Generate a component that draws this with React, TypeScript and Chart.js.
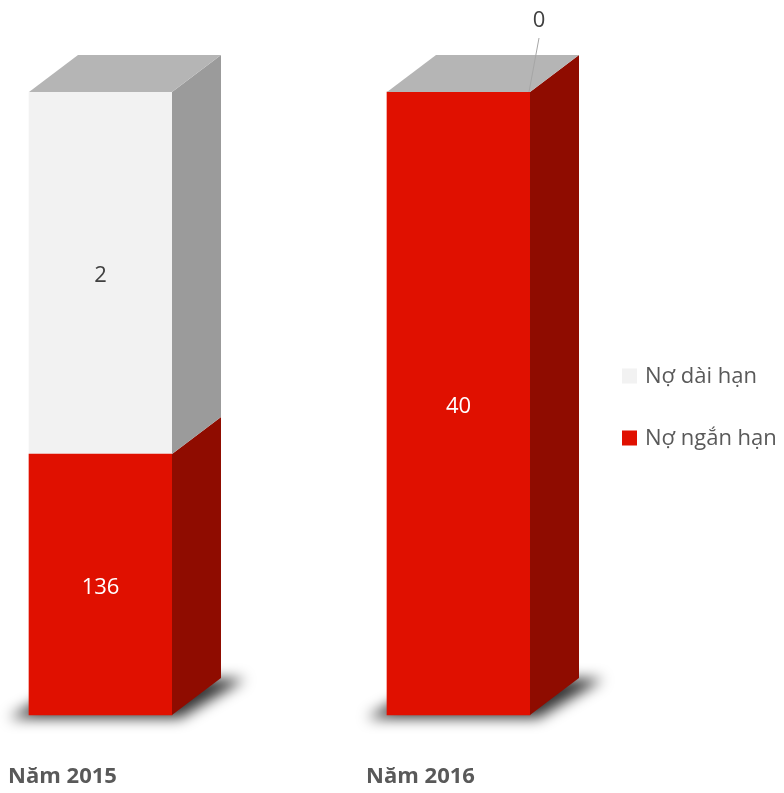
import { useEffect, useRef } from "react";
import { Chart, registerables } from "chart.js";

Chart.register(...registerables);

// ---- data ----
const categories = ["Năm 2015", "Năm 2016"];
const seriesNames = ["Nợ ngắn hạn", "Nợ dài hạn"];
// plotted column shares (% of column height, as drawn in the reference)
const shortTermShare = [41.9, 100];
const longTermShare = [58.1, 0];
// data labels as printed on the reference
const shortTermLabels = ["136", "40"];
const longTermLabels = ["2", "0"];

// ---- styles ----
const FRONT = ["#e01000", "#f2f2f2"];
const SIDE = ["#8f0c00", "#9b9b9b"];
const TOP = ["#b00d00", "#b5b5b5"];
const LABEL_COLOR = ["#ffffff", "#404040"];
const DX = 49;
const DY = -37;
const FONT = "'Open Sans', 'Noto Sans', sans-serif";

const threeD = {
  id: "threeD",
  beforeDatasetsDraw(chart: any) {
    const ctx = chart.ctx;
    const meta0 = chart.getDatasetMeta(0);
    meta0.data.forEach((bar: any) => {
      const { x, base, width } = bar.getProps(["x", "base", "width"], true);
      const l = x - width / 2;
      const r = x + width / 2;
      ctx.save();
      ctx.filter = "blur(7px)";
      ctx.fillStyle = "rgba(0,0,0,0.8)";
      ctx.beginPath();
      ctx.moveTo(l - 20, base + 3);
      ctx.lineTo(r + 8, base + 3);
      ctx.lineTo(r + DX + 24, base + DY + 1);
      ctx.lineTo(l + DX, base + DY);
      ctx.closePath();
      ctx.fill();
      ctx.restore();
    });
  },
  afterDatasetsDraw(chart: any) {
    const ctx = chart.ctx;
    const n = chart.data.datasets.length;
    for (let d = 0; d < n; d++) {
      const meta = chart.getDatasetMeta(d);
      meta.data.forEach((bar: any) => {
        const { x, y, base, width } = bar.getProps(["x", "y", "base", "width"], true);
        const l = x - width / 2;
        const r = x + width / 2;
        if (Math.abs(base - y) > 0.5) {
          ctx.save();
          ctx.fillStyle = SIDE[d];
          ctx.beginPath();
          ctx.moveTo(r, y);
          ctx.lineTo(r + DX, y + DY);
          ctx.lineTo(r + DX, base + DY);
          ctx.lineTo(r, base);
          ctx.closePath();
          ctx.fill();
          ctx.restore();
        }
        if (d === n - 1) {
          ctx.save();
          ctx.fillStyle = TOP[d];
          ctx.beginPath();
          ctx.moveTo(l, y);
          ctx.lineTo(l + DX, y + DY);
          ctx.lineTo(r + DX, y + DY);
          ctx.lineTo(r, y);
          ctx.closePath();
          ctx.fill();
          ctx.restore();
        }
      });
    }
    const labelSets = [shortTermLabels, longTermLabels];
    for (let d = 0; d < n; d++) {
      const meta = chart.getDatasetMeta(d);
      const vals = chart.data.datasets[d].data;
      meta.data.forEach((bar: any, i: number) => {
        const { x, y, base, width } = bar.getProps(["x", "y", "base", "width"], true);
        const r = x + width / 2;
        ctx.save();
        ctx.font = `22px ${FONT}`;
        ctx.textAlign = "center";
        ctx.textBaseline = "middle";
        if (vals[i] === 0) {
          ctx.strokeStyle = "#a6a6a6";
          ctx.lineWidth = 1;
          ctx.beginPath();
          ctx.moveTo(r + 9, y - 54);
          ctx.lineTo(r - 1, y);
          ctx.stroke();
          ctx.fillStyle = "#404040";
          ctx.fillText(labelSets[d][i], r + 9, y - 71);
        } else {
          ctx.fillStyle = LABEL_COLOR[d];
          ctx.fillText(labelSets[d][i], x, (y + base) / 2 + 3);
        }
        ctx.restore();
      });
    }
  },
  afterDraw(chart: any) {
    const ctx = chart.ctx;
    const xs = chart.scales.x;
    ctx.save();
    ctx.font = `bold 22px ${FONT}`;
    ctx.fillStyle = "#595959";
    ctx.textAlign = "center";
    ctx.textBaseline = "middle";
    categories.forEach((c, i) => {
      ctx.fillText(c, xs.getPixelForValue(i) - 38, 777);
    });
    ctx.restore();
    const n = chart.data.datasets.length;
    ctx.save();
    ctx.font = `22px ${FONT}`;
    ctx.textAlign = "left";
    ctx.textBaseline = "middle";
    for (let k = 0; k < n; k++) {
      const d = n - 1 - k;
      const cy = 376 + k * 62;
      ctx.fillStyle = FRONT[d];
      ctx.fillRect(622, cy - 7.5, 15, 15);
      ctx.fillStyle = "#595959";
      ctx.fillText(chart.data.datasets[d].label, 645, cy + 1);
    }
    ctx.restore();
  },
};

export default function App() {
  const ref = useRef<HTMLCanvasElement>(null);
  useEffect(() => {
    if (!ref.current) return;
    const chart = new Chart(ref.current, {
      type: "bar",
      data: {
        labels: categories,
        datasets: [
          {
            label: seriesNames[0],
            data: shortTermShare,
            backgroundColor: FRONT[0],
            borderWidth: 0,
            barThickness: 143,
            clip: false as any,
          },
          {
            label: seriesNames[1],
            data: longTermShare,
            backgroundColor: FRONT[1],
            borderWidth: 0,
            barThickness: 143,
            clip: false as any,
          },
        ],
      },
      options: {
        animation: false,
        responsive: false,
        devicePixelRatio: 1,
        layout: { padding: { left: 100.5, right: 325.5, top: 92, bottom: 78 } },
        scales: {
          x: { type: "category", offset: false, display: false, stacked: true },
          y: { min: 0, max: 100, display: false, stacked: true },
        },
        plugins: {
          legend: { display: false },
          tooltip: { enabled: false },
        },
      },
      plugins: [threeD],
    });
    return () => chart.destroy();
  }, []);
  return (
    <div style={{ position: "fixed", left: 0, top: 0, width: 784, height: 793, background: "#fff" }}>
      <canvas ref={ref} width={784} height={793} />
    </div>
  );
}
